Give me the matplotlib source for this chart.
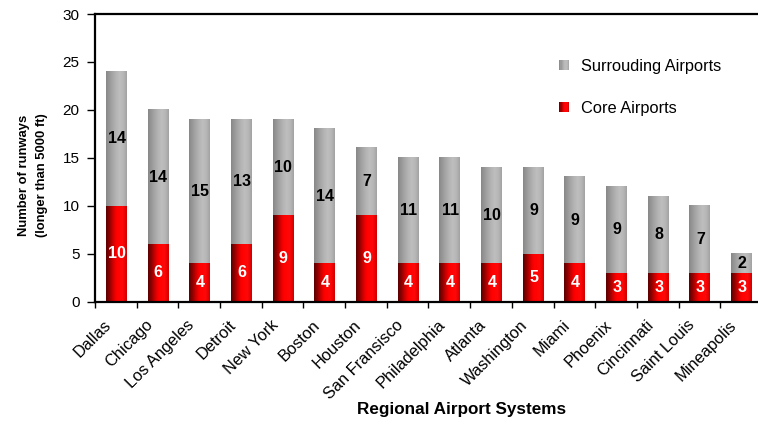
import numpy as np
import matplotlib
matplotlib.use("Agg")
import matplotlib.pyplot as plt
from matplotlib.colors import LinearSegmentedColormap
from matplotlib.patches import Rectangle
from matplotlib.legend_handler import HandlerBase
from matplotlib.transforms import ScaledTranslation

plt.rcParams['font.family'] = ['Liberation Sans', 'DejaVu Sans']

cities = ["Dallas", "Chicago", "Los Angeles", "Detroit", "New York", "Boston",
          "Houston", "San Fransisco", "Philadelphia", "Atlanta", "Washington",
          "Miami", "Phoenix", "Cincinnati", "Saint Louis", "Mineapolis"]
core = [10, 6, 4, 6, 9, 4, 9, 4, 4, 4, 5, 4, 3, 3, 3, 3]
surrounding = [14, 14, 15, 13, 10, 14, 7, 11, 11, 10, 9, 9, 9, 8, 7, 2]

red_cm = LinearSegmentedColormap.from_list("red", [
    (0.0, "#5c0000"), (0.15, "#8a0000"), (0.35, "#d40000"), (0.5, "#ff0000"),
    (0.8, "#ff0808"), (1.0, "#d00000")])
gray_cm = LinearSegmentedColormap.from_list("gray", [
    (0.0, "#888888"), (0.2, "#9c9c9c"), (0.45, "#b2b2b2"), (0.65, "#bebebe"),
    (0.85, "#b6b6b6"), (1.0, "#a2a2a2")])
grad = np.linspace(0, 1, 64).reshape(1, -1)


class GradHandler(HandlerBase):
    def __init__(self, cmap):
        super().__init__()
        self.cmap = cmap

    def create_artists(self, legend, orig_handle, xdescent, ydescent, width,
                       height, fontsize, trans):
        n = 8
        s = height
        x0 = width - s
        out = []
        for k in range(n):
            r = Rectangle((x0 + k * s / n - xdescent, -ydescent), s / n + 0.2, s,
                          facecolor=self.cmap((k + 0.5) / n), edgecolor='none',
                          transform=trans)
            out.append(r)
        return out


fig = plt.figure(figsize=(7.58, 4.21), dpi=100)
ax = fig.add_axes([0.1253, 0.2834, 0.88, 0.6833])

x = np.arange(len(cities))
w = 0.48
for i in x:
    c = core[i]
    s = surrounding[i]
    ax.imshow(grad, cmap=red_cm, extent=(i - w / 2, i + w / 2, 0, c),
              aspect='auto', interpolation='bilinear', zorder=2)
    ax.imshow(grad, cmap=gray_cm, extent=(i - w / 2, i + w / 2, c, c + s),
              aspect='auto', interpolation='bilinear', zorder=2)
    ax.text(i + 0.02, c / 2, str(c), ha='center', va='center', color='white',
            fontsize=11.5, fontweight='bold', zorder=3)
    ax.text(i + 0.02, c + s / 2, str(s), ha='center', va='center', color='black',
            fontsize=11.5, fontweight='bold', zorder=3)

ax.set_xlim(-0.5, len(cities) - 0.5)
ax.set_ylim(0, 30)
ax.set_yticks(range(0, 31, 5))
ax.set_xticks(x)
ax.set_xticklabels(cities, rotation=45, ha='right', va='center',
                   rotation_mode='anchor', fontsize=11.8)
ax.set_xticks(np.arange(-0.5, len(cities), 1), minor=True)
ax.tick_params(axis='x', which='major', length=0, pad=15)
ax.tick_params(axis='x', which='minor', length=4, width=1, direction='out')
ax.tick_params(axis='y', length=6, width=1, direction='out', pad=5,
               labelsize=11)
# nudge the slanted names left, after tick_params (it resets transforms)
shift = ScaledTranslation(-7 / 100, 0, fig.dpi_scale_trans)
for lab in ax.xaxis.get_majorticklabels():
    lab.set_transform(lab.get_transform() + shift)
for sp in ['top', 'left', 'bottom']:
    ax.spines[sp].set_linewidth(1.6)
ax.spines['right'].set_visible(False)

ax.set_xlabel("Regional Airport Systems", fontsize=12.3, fontweight='bold',
              va='center')
ax.xaxis.set_label_coords(0.549, -0.374)
ax.set_ylabel("Number of runways\n(longer than 5000 ft)", fontsize=9.4,
              fontweight='bold', linespacing=1.75)
ax.yaxis.set_label_coords(-0.07, 0.44)

h1 = Rectangle((0, 0), 1, 1)
h2 = Rectangle((0, 0), 1, 1)
ax.legend([h1, h2], ["Surrouding Airports", "Core Airports"],
          handler_map={h1: GradHandler(gray_cm), h2: GradHandler(red_cm)},
          loc='upper left', bbox_to_anchor=(0.675, 0.895), frameon=False,
          fontsize=11.8, labelspacing=1.65, handlelength=0.55,
          handleheight=0.55, handletextpad=0.75)

fig.savefig("out.png", dpi=100)
